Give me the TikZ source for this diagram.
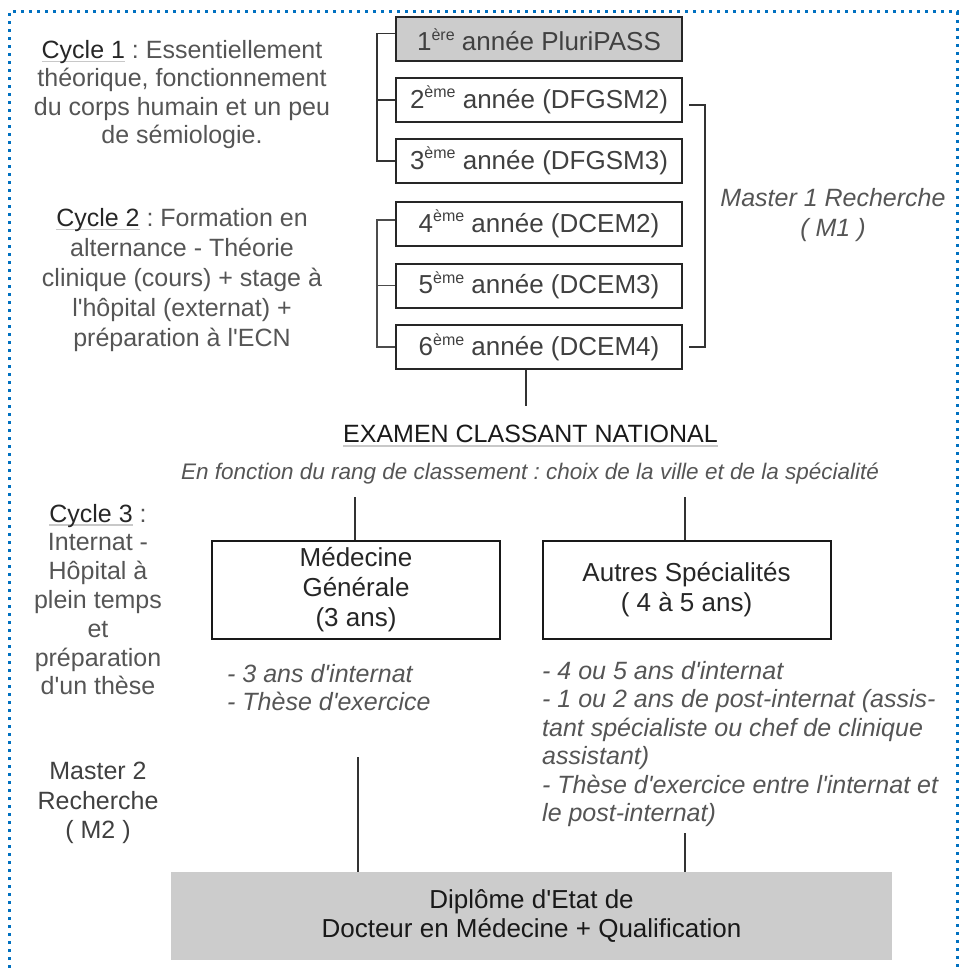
\documentclass[tikz,border=0pt]{standalone}
\usepackage{fontspec}
\setmainfont{Liberation Sans}
\usetikzlibrary{calc}
\frenchspacing
\definecolor{bordblue}{RGB}{0,112,192}
\definecolor{boxgray}{RGB}{204,204,204}
\definecolor{txtA}{RGB}{38,38,38}
\definecolor{txtB}{RGB}{85,85,85}
\definecolor{txtC}{RGB}{64,64,64}
\definecolor{ulgray}{RGB}{200,200,200}
\newsavebox\ulbox
\newcommand\gunder[1]{\sbox\ulbox{#1}\rlap{\textcolor{ulgray}{\rule[-4pt]{\wd\ulbox}{1.6pt}}}\usebox\ulbox}
\newcommand\supx[1]{\raisebox{0.40em}{\fontsize{16}{16}\selectfont #1}}
\newcommand\apos{\textquotesingle}
\begin{document}
\begin{tikzpicture}[x=1pt,y=-1pt,
  yearbox/.style={draw=black!85, line width=2pt, minimum width=286pt, minimum height=44pt, inner sep=0pt, text=txtC, font=\fontsize{26}{29}\selectfont},
  bigbox/.style={draw=black!90, line width=2pt, minimum width=288pt, minimum height=98pt, inner sep=0pt, align=center, text=txtA, font=\fontsize{26}{30}\selectfont},
  sidetext/.style={align=center, text=txtB, inner sep=0pt},
  listtext/.style={align=left, text=txtB, inner sep=0pt, font=\fontsize{25}{28.5}\selectfont\itshape},
  conn/.style={draw=black!80, line width=1.8pt, line join=miter}]
\useasboundingbox (0,0) rectangle (964,968);
% border
\draw[draw=bordblue, line width=3pt, dash pattern=on 3pt off 5pt] (9,968) -- (9,12) -- (957,12) -- (957,968);

% year boxes
\node[yearbox, fill=boxgray] (p1) at (539,39.5) {1\supx{ère} année PluriPASS};
\node[yearbox] (p2) at (539,100) {2\supx{ème} année (DFGSM2)};
\node[yearbox] (p3) at (539,161) {3\supx{ème} année (DFGSM3)};
\node[yearbox] (p4) at (539,224) {4\supx{ème} année (DCEM2)};
\node[yearbox] (p5) at (539,285.5) {5\supx{ème} année (DCEM3)};
\node[yearbox] (p6) at (539,347) {6\supx{ème} année (DCEM4)};

% left texts
\node[sidetext, font=\fontsize{25}{28.4}\selectfont] (c1) at (182,94.5)
  {\textcolor{txtA}{\gunder{Cycle 1}} : Essentiellement\\théorique, fonctionnement\\du corps humain et un peu\\de sémiologie.};
\node[sidetext, font=\fontsize{25}{30}\selectfont] (c2) at (182,280)
  {\textcolor{txtA}{\gunder{Cycle 2}} : Formation en\\alternance - Théorie\\clinique (cours) + stage à\\l\apos hôpital (externat) +\\préparation à l\apos ECN};
\node[sidetext, font=\fontsize{25}{28.8}\selectfont] (c3) at (98,599.5)
  {\textcolor{txtA}{\gunder{Cycle 3}} :\\Internat -\\Hôpital à\\plein temps\\et\\préparation\\d\apos un thèse};
\node[sidetext, text=txtC, font=\fontsize{25}{29.5}\selectfont] (m2) at (98,803)
  {Master 2\\Recherche\\( M2 )};
\node[sidetext, font=\fontsize{25}{30}\selectfont\itshape] (m1) at (833,215)
  {Master 1 Recherche\\( M1 )};

% ECN
\node[inner sep=0pt, text=black!90, font=\fontsize{25}{29}\selectfont] (ecn) at (530.5,436)
  {\gunder{EXAMEN CLASSANT NATIONAL}};
\node[inner sep=0pt, text=txtB, font=\fontsize{22.5}{27}\selectfont\itshape] (rang) at (530,474)
  {En fonction du rang de classement : choix de la ville et de la spécialité};

% specialty boxes
\node[bigbox] (mg) at (356,590) {Médecine\\Générale\\(3 ans)};
\node[bigbox] (as) at (686.5,590) {Autres Spécialités\\( 4 à 5 ans)};

% lists
\node[listtext, anchor=west] (l1) at (227,687.5) {- 3 ans d\apos internat\\- Thèse d\apos exercice};
\node[listtext, anchor=west] (l2) at (542,744) {- 4 ou 5 ans d\apos internat\\- 1 ou 2 ans de post-internat (assis-\\tant spécialiste ou chef de clinique\\assistant)\\- Thèse d\apos exercice entre l\apos internat et\\le post-internat)};

% diploma
\node[fill=boxgray, minimum width=721pt, minimum height=88pt, inner sep=0pt, align=center, text=black!90, font=\fontsize{26}{29}\selectfont] (dip) at (531.5,916)
  {Diplôme d\apos Etat de\\Docteur en Médecine + Qualification};

% brackets
\coordinate (lb) at (377,0);
\coordinate (rb) at (705,0);
\draw[conn] ([yshift=6pt]p1.west) -- ([yshift=6pt]p1.west -| lb) -- (p3.west -| lb) -- (p3.west);
\draw[conn] (p2.west) -- (p2.west -| lb);
\draw[conn, draw=black!70] ([yshift=4pt]p4.west) -- ([yshift=4pt]p4.west -| lb) -- (p6.west -| lb) -- (p6.west);
\draw[conn, draw=black!70] (p5.west) -- (p5.west -| lb);
\draw[conn] ([xshift=6pt,yshift=-5pt]p2.east) -- ([yshift=-5pt]p2.east -| rb) -- (p6.east -| rb) -- ([xshift=6pt]p6.east);

% connectors
\coordinate (ecntop) at (526,406);
\draw[conn] (p6.south -| ecntop) -- (ecntop);
\coordinate (mgtop) at (355,497);
\draw[conn] (mgtop) -- (mgtop |- mg.north);
\coordinate (astop) at (685,497);
\draw[conn] (astop) -- (astop |- as.north);
\coordinate (mgbot) at (358,757);
\draw[conn] (mgbot) -- (mgbot |- dip.north);
\coordinate (asbot) at (685,833);
\draw[conn] (asbot) -- (asbot |- dip.north);
\end{tikzpicture}
\end{document}
